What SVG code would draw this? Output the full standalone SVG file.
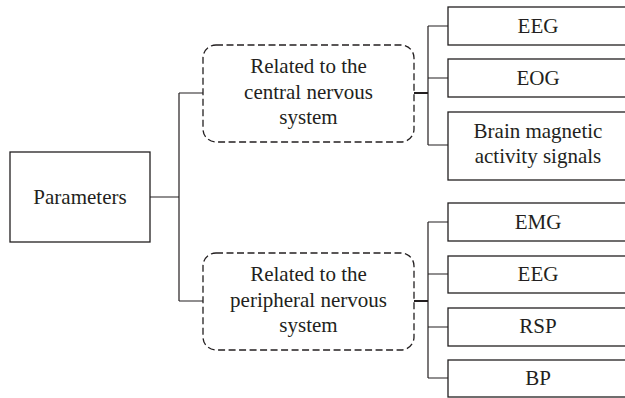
<svg xmlns="http://www.w3.org/2000/svg" width="625" height="398" viewBox="0 0 625 398">
<style>
.box{fill:#fff;stroke:#231f20;stroke-width:1.3}
.dash{fill:#fff;stroke:#231f20;stroke-width:1.3;stroke-dasharray:7 3.5}
.ln{fill:none;stroke:#231f20;stroke-width:1.2}
.bold{fill:none;stroke:#231f20;stroke-width:2}
text{font-family:"Liberation Serif","Times New Roman",serif;font-size:21px;fill:#231f20;text-anchor:middle}
</style>
<rect width="625" height="398" fill="#fff"/>
<g id="connectors">
<path class="ln" d="M150 197H179M179 93V301M179 93H203M179 301H203"/>
<path class="bold" d="M414 93H428M414 301H428"/>
<path class="ln" d="M428 26V145M428 26H448M428 78H448M428 145H448"/>
<path class="ln" d="M428 222V378M428 222H448M428 274H448M428 327H448M428 378H448"/>
</g>
<g id="parameters"><rect class="box" x="10" y="152" width="140" height="90"/><text x="80" y="204">Parameters</text></g>
<g id="central"><rect class="dash" x="203" y="45" width="211" height="97" rx="13"/>
<text x="308.5" y="73">Related to the</text><text x="308.5" y="99">central nervous</text><text x="308.5" y="124">system</text></g>
<g id="peripheral"><rect class="dash" x="203" y="253" width="211" height="97" rx="13"/>
<text x="308.5" y="281">Related to the</text><text x="308.5" y="307">peripheral nervous</text><text x="308.5" y="332">system</text></g>
<g id="eeg1"><rect class="box" x="448" y="7" width="180" height="38"/><text x="538" y="33">EEG</text></g>
<g id="eog"><rect class="box" x="448" y="59" width="180" height="38"/><text x="538" y="85">EOG</text></g>
<g id="brain"><rect class="box" x="448" y="112" width="180" height="68"/><text x="538" y="138">Brain magnetic</text><text x="538" y="163">activity signals</text></g>
<g id="emg"><rect class="box" x="448" y="203" width="180" height="38"/><text x="538" y="229">EMG</text></g>
<g id="eeg2"><rect class="box" x="448" y="256" width="180" height="37"/><text x="538" y="281">EEG</text></g>
<g id="rsp"><rect class="box" x="448" y="308" width="180" height="38"/><text x="538" y="333">RSP</text></g>
<g id="bp"><rect class="box" x="448" y="360" width="180" height="37"/><text x="538" y="385">BP</text></g>
</svg>
